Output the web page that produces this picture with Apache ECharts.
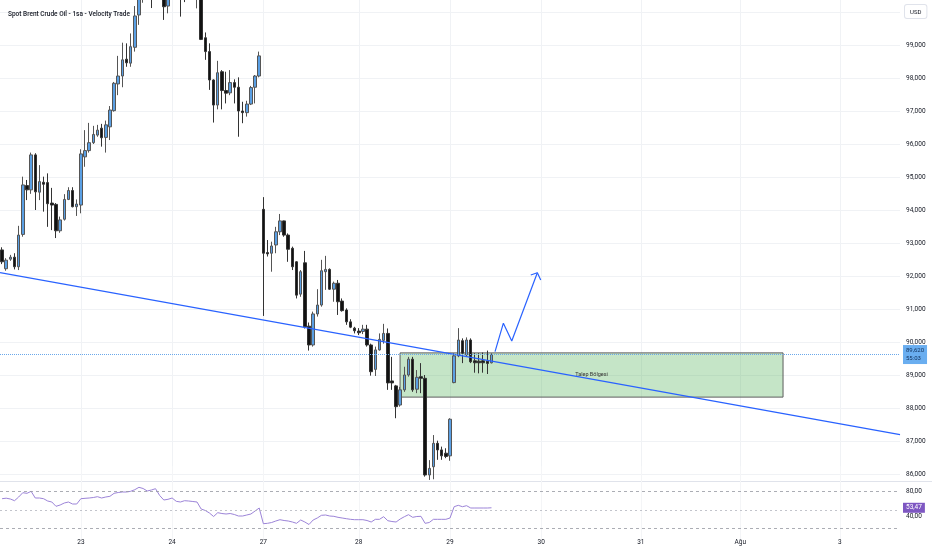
<!DOCTYPE html>
<html><head><meta charset="utf-8">
<script src="https://cdn.jsdelivr.net/npm/echarts@6/dist/echarts.min.js"></script>
<style>html,body{margin:0;padding:0;background:#fff}#c{width:932px;height:550px}</style>
</head><body><div id="c"></div>
<script>
// ---- data ----
const barCount = 217; // hourly slots incl. future empty slots
const dayLabelIndex = [19, 41, 63, 86, 108, 130, 154, 178, 202];
const dayLabelText = ['23', '24', '27', '28', '29', '30', '31', 'Ağu', '3'];

const openP = [92.79,92.22,92.51,92.57,92.28,93.26,94.74,94.61,95.67,94.54,
94.84,94.83,94.21,94.17,93.37,93.72,94.32,94.59,94.10,94.15,
95.61,95.80,96.04,96.27,96.48,96.20,96.52,97.01,97.82,98.06,
98.57,98.45,98.93,99.91,100.55,100.80,101.10,100.70,100.90,100.60,
100.18,100.70,100.95,100.75,100.55,100.50,100.85,100.70,100.85,99.22,
98.80,97.94,97.18,98.19,97.62,97.55,97.86,97.72,97.00,96.95,
97.21,97.72,98.06,94.02,92.71,92.69,92.94,93.34,93.67,93.24,
92.84,92.43,91.45,92.40,90.48,89.91,90.85,91.12,92.13,92.20,
91.60,91.78,91.24,90.97,90.61,90.42,90.33,90.32,90.39,89.91,
89.17,89.76,90.05,90.26,88.82,88.67,88.09,88.55,89.00,89.48,
88.57,88.95,88.90,85.97,86.22,86.93,86.73,86.63,86.55,88.77,
89.58,90.04,89.61,90.06,89.43,89.42,89.43,89.42,89.37];

const closeP = [92.43,92.48,92.57,92.28,93.24,94.76,94.61,95.67,94.55,94.86,
94.78,94.19,94.15,93.37,93.70,94.32,94.59,94.10,94.18,95.70,
95.80,96.04,96.29,96.42,96.19,96.58,97.03,97.84,98.06,98.55,
98.46,98.95,99.88,100.55,100.80,101.10,100.70,100.90,100.60,100.16,
100.70,100.95,100.75,100.55,100.50,100.85,100.70,100.85,99.17,98.80,
97.94,97.18,98.16,97.62,97.54,97.86,97.72,97.00,96.95,97.21,
97.71,98.06,98.67,92.69,92.67,92.91,93.34,93.67,93.24,92.81,
92.28,91.42,92.13,90.46,89.91,90.85,91.12,92.16,92.20,91.60,
91.78,91.22,90.95,90.61,90.45,90.34,90.28,90.39,89.91,89.10,
89.76,90.08,90.26,88.76,88.76,88.04,88.55,89.00,89.48,88.55,
88.93,88.90,85.97,86.17,86.93,86.73,86.55,86.53,87.66,89.58,
90.06,89.66,90.06,89.40,89.37,89.37,89.37,89.35,89.62];

const lowP = [92.36,92.16,92.46,92.20,92.18,93.19,94.30,94.49,94.00,94.30,
93.95,93.49,93.39,93.15,93.31,93.68,94.30,94.08,93.82,93.90,
95.31,95.74,96.00,96.22,95.92,95.74,96.12,96.98,97.48,97.72,
98.34,98.34,98.80,99.61,100.28,100.60,100.12,100.50,100.45,99.76,
99.96,100.55,100.50,99.86,100.30,100.45,100.50,100.11,99.15,98.55,
97.64,96.65,97.05,97.05,97.23,97.48,97.23,96.22,96.63,96.83,
97.18,97.23,98.02,90.79,92.59,92.13,92.69,93.24,93.19,92.43,
92.18,91.32,91.37,90.41,89.74,89.86,90.77,91.07,91.58,91.58,
91.22,90.82,90.92,90.52,90.42,90.26,90.21,90.24,89.86,88.98,
88.97,89.74,89.95,88.55,88.55,87.69,88.04,88.49,88.95,88.49,
88.45,88.45,85.92,85.82,85.84,86.43,86.43,86.48,86.40,88.75,
89.54,89.36,89.55,89.36,89.07,89.05,89.07,89.03,89.35];

const highP = [92.87,92.54,92.64,92.69,93.52,95.01,94.91,95.74,95.72,95.36,
95.01,95.11,94.67,94.21,93.80,94.48,94.69,94.69,94.32,95.84,
96.42,96.64,96.55,96.58,96.61,96.71,97.15,97.88,98.67,99.07,
99.05,99.35,100.18,100.70,101.00,101.30,101.25,101.10,101.05,100.75,
100.85,101.10,101.20,100.90,100.80,101.00,101.00,101.00,100.95,99.38,
99.05,97.96,98.52,98.24,98.19,98.24,97.96,98.02,97.28,97.31,
97.76,98.09,98.80,94.39,93.09,93.04,93.49,93.88,93.68,93.29,
92.89,92.45,92.18,92.76,90.59,90.92,91.60,92.49,92.61,92.23,
91.83,91.88,91.32,91.02,90.69,90.46,90.42,90.52,90.52,89.95,
89.86,90.26,90.55,90.41,89.55,88.70,88.64,89.25,89.55,89.55,
89.15,89.36,89.00,86.42,87.18,87.01,86.83,86.78,87.69,89.66,
90.42,90.11,90.14,90.11,89.66,89.66,89.68,89.74,89.66];

const rsi = [68.0,68.8,67.5,64.8,70.7,77.6,76.6,79.8,69.1,69.1,
68.0,64.3,62.7,55.8,57.9,61.1,62.7,59.5,59.5,68.0,
68.6,69.1,69.9,71.2,69.1,70.7,71.8,76.6,77.9,78.7,
78.7,79.8,82.4,86.2,84.3,80.3,81.9,84.0,73.1,65.9,
67.0,69.1,63.8,62.7,64.8,64.3,63.5,62.7,51.5,49.1,
45.1,39.5,45.6,44.3,43.5,44.3,42.7,40.3,40.3,41.9,
43.5,48.3,53.1,28.0,28.6,29.9,32.3,34.4,33.1,32.3,
30.7,28.6,33.9,30.7,26.7,33.9,37.1,41.4,41.9,40.3,
39.8,38.2,37.1,36.0,35.0,34.4,34.4,34.4,33.1,30.7,
35.0,35.0,39.2,32.8,31.5,30.7,35.5,39.2,42.4,38.2,
39.5,39.8,28.6,29.9,35.0,35.0,35.0,35.0,37.1,55.2,
57.4,55.2,56.8,53.1,53.1,53.1,53.1,53.1,53.47];

const priceAxis = { min: 85, max: 101, step: 1, firstLabel: 86, lastLabel: 99 };
const rsiAxis = { min: 0, max: 120, step: 40, labels: [40, 80] };
const rsiBands = [80, 50, 20];
const lastPrice = 89.62;
const lastPriceText = '89,620';
const countdownText = '55:03';
const rsiLast = 53.47;
const rsiLastText = '53,47';

// annotations (x in bar-index units, y in price)
const trendLine = [[-0.5, 92.10], [216.5, 87.19]];
const arrowPath = [[118.86, 89.71], [120.87, 90.57], [122.89, 90.03], [129.06, 92.10]];
const arrowHead = [[127.47, 92.03], [129.06, 92.10], [129.88, 91.88]];
const zoneX = [95.96, 188.3];
const zonePrice = [88.33, 89.67];
const zoneLabel = 'Talep Bölgesi';
const titleText = 'Spot Brent Crude Oil - 1sa - Velocity Trade';

// ---- build ----
const categories = [];
for (let i = 0; i < barCount; i++) {
  const k = dayLabelIndex.indexOf(i);
  categories.push(k >= 0 ? dayLabelText[k] : '');
}
const candles = openP.map((o, i) => [o, closeP[i], lowP[i], highP[i]]);

const FONT = 'Roboto, "Noto Sans", sans-serif';
const GRID_COLOR = '#f0f2f5';
const chart = echarts.init(document.getElementById('c'), null, { renderer: 'canvas' });

const option = {
  animation: false,
  backgroundColor: '#ffffff',
  textStyle: { fontFamily: FONT },
  title: {
    text: titleText, left: 3, top: 6,
    textStyle: { fontSize: 6.5, fontWeight: 500, color: '#131722', fontFamily: FONT }
  },
  grid: [
    { left: 0, right: 32, top: -21, height: 528, containLabel: false, outerBoundsMode: 'none' },
    { left: 0, right: 32, top: 466.2, height: 75, containLabel: false, outerBoundsMode: 'none' }
  ],
  xAxis: [
    {
      type: 'category', gridIndex: 0, data: categories, boundaryGap: true,
      axisLine: { show: false }, axisTick: { show: false }, axisLabel: { show: false },
      splitLine: { show: true, alignWithLabel: true, interval: (i) => dayLabelIndex.indexOf(i) >= 0, lineStyle: { color: GRID_COLOR, width: 1 } }
    },
    {
      type: 'category', gridIndex: 1, data: categories, boundaryGap: true,
      axisLine: { show: false }, axisTick: { show: false },
      axisLabel: { show: true, interval: 0, margin: -2, fontSize: 6.5, color: '#131722', fontFamily: FONT },
      splitLine: { show: true, alignWithLabel: true, interval: (i) => dayLabelIndex.indexOf(i) >= 0, lineStyle: { color: '#f4f5f7', width: 1 } }
    },
    { type: 'value', gridIndex: 0, min: -0.5, max: barCount - 0.5, show: false }
  ],
  yAxis: [
    {
      type: 'value', gridIndex: 0, position: 'right', scale: true,
      min: priceAxis.min, max: priceAxis.max, interval: priceAxis.step,
      axisLine: { show: false }, axisTick: { show: false },
      axisLabel: {
        margin: 6, fontSize: 6.5, color: '#131722', fontFamily: FONT,
        formatter: (v) => (v < priceAxis.firstLabel || v > priceAxis.lastLabel) ? '' : v.toFixed(3).replace('.', ',')
      },
      splitLine: { show: true, showMinLine: false, showMaxLine: false, lineStyle: { color: GRID_COLOR, width: 1 } }
    },
    {
      type: 'value', gridIndex: 1, position: 'right',
      min: rsiAxis.min, max: rsiAxis.max, interval: rsiAxis.step,
      axisLine: { show: false }, axisTick: { show: false },
      axisLabel: {
        margin: 6, fontSize: 6.5, color: '#131722', fontFamily: FONT,
        formatter: (v) => rsiAxis.labels.indexOf(v) >= 0 ? v.toFixed(2).replace('.', ',') : ''
      },
      splitLine: { show: false }
    }
  ],
  series: [
    {
      name: 'zone', type: 'line', xAxisIndex: 2, yAxisIndex: 0, z: 1,
      data: trendLine, symbol: 'none', lineStyle: { opacity: 0 }, silent: true,
      markArea: {
        silent: true,
        itemStyle: { color: 'rgba(76,175,80,0.32)', borderColor: '#5d5d5d', borderWidth: 1 },
        label: { show: true, position: 'inside', formatter: zoneLabel, fontSize: 5.5, color: '#333', fontFamily: FONT },
        data: [[{ coord: [zoneX[0], zonePrice[1]] }, { coord: [zoneX[1], zonePrice[0]] }]]
      }
    },
    {
      name: 'Brent', type: 'candlestick', xAxisIndex: 0, yAxisIndex: 0, z: 2,
      data: candles, barWidth: 3,
      itemStyle: { color: '#5a9fe3', color0: '#121212', borderColor: '#555', borderColor0: '#333', borderWidth: 1 },
      markLine: {
        silent: true, symbol: ['none', 'none'],
        lineStyle: { color: '#6aa8ea', type: 'dotted', width: 1 },
        label: {
          show: true, position: 'end', distance: 3,
          formatter: lastPriceText + '\n' + countdownText,
          backgroundColor: '#6aaef0', color: '#10305a', fontSize: 6, lineHeight: 8,
          padding: [2, 3, 1, 3], fontFamily: FONT
        },
        data: [{ yAxis: lastPrice }]
      }
    },
    {
      name: 'trend', type: 'line', xAxisIndex: 2, yAxisIndex: 0, z: 3,
      data: trendLine, symbol: 'none', silent: true,
      lineStyle: { color: '#2962ff', width: 1.3 }
    },
    {
      name: 'arrow', type: 'line', xAxisIndex: 2, yAxisIndex: 0, z: 3,
      data: arrowPath, symbol: 'none', silent: true,
      lineStyle: { color: '#2962ff', width: 1.2 }
    },
    {
      name: 'arrowHead', type: 'line', xAxisIndex: 2, yAxisIndex: 0, z: 3,
      data: arrowHead, symbol: 'none', silent: true,
      lineStyle: { color: '#2962ff', width: 1.2 }
    },
    {
      name: 'RSI', type: 'line', xAxisIndex: 1, yAxisIndex: 1, z: 3,
      data: rsi, symbol: 'none', silent: true,
      lineStyle: { color: '#9c84d8', width: 1 },
      markLine: {
        silent: true, symbol: ['none', 'none'],
        data: [
          { yAxis: rsiBands[0], label: { show: false }, lineStyle: { color: '#9598a1', type: [3, 3], width: 0.8 } },
          { yAxis: rsiBands[1], label: { show: false }, lineStyle: { color: '#b2b5be', type: [2, 3], width: 0.8 } },
          { yAxis: rsiBands[2], label: { show: false }, lineStyle: { color: '#9598a1', type: [3, 3], width: 0.8 } },
          {
            yAxis: rsiLast, lineStyle: { color: 'rgba(0,0,0,0)', width: 0.1 },
            label: {
              show: true, position: 'end', distance: 3, formatter: rsiLastText,
              backgroundColor: '#7e57c2', color: '#ffffff', fontSize: 6.5, padding: [2, 3, 1, 3], fontFamily: FONT
            }
          }
        ]
      }
    }
  ],
  graphic: [
    { type: 'line', silent: true, shape: { x1: 0, y1: 481.5, x2: 932, y2: 481.5 }, style: { stroke: '#e0e3eb', lineWidth: 1 } },
    {
      type: 'text', left: 904, top: 4, silent: true,
      style: {
        text: 'USD', fontSize: 6, fill: '#131722', fontFamily: FONT,
        backgroundColor: '#ffffff', borderColor: '#e0e3eb', borderWidth: 1, borderRadius: 2, padding: [4, 5, 3, 5]
      }
    }
  ]
};
chart.setOption(option);
</script>
</body></html>
